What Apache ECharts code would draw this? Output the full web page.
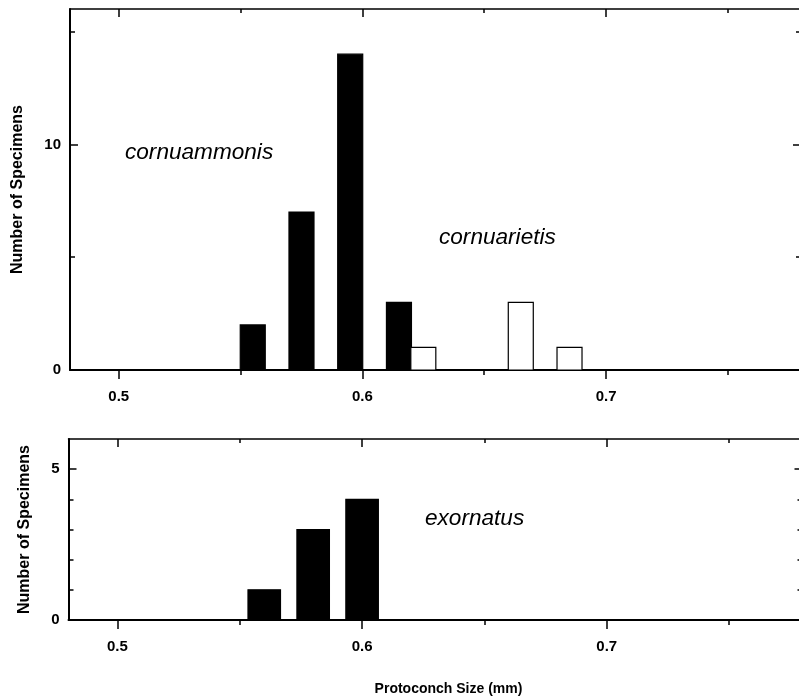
<!DOCTYPE html>
<html>
<head>
<meta charset="utf-8">
<script src="https://cdn.jsdelivr.net/npm/echarts@6/dist/echarts.min.js"></script>
<style>
html,body{margin:0;padding:0;background:#fff;}
#chart{width:799px;height:698px;}
</style>
</head>
<body>
<div id="chart"></div>
<script>
// ---- data ----
const topDarkBins = [0.555, 0.575, 0.595, 0.615];
const topDarkCounts = [2, 7, 14, 3];
const topOpenBins = [0.625, 0.665, 0.685];
const topOpenCounts = [1, 3, 1];
const lowerBins = [0.56, 0.58, 0.60];
const lowerCounts = [1, 3, 4];
const xMajorTicks = [0.5, 0.6, 0.7];
const xMinorTicks = [0.55, 0.65, 0.75];
const topYMajor = [0, 10];
const topYMinor = [5, 15];
const lowYMajor = [0, 5];
const lowYMinor = [1, 2, 3, 4];
const xTitle = 'Protoconch Size (mm)';
const yTitle = 'Number of Specimens';

const FONT = '"Liberation Sans", Arial, Helvetica, sans-serif';
const BLACK = '#000';

function zip(a, b) { return a.map((v, i) => [v, b[i]]); }

function xAxes(gi, withName) {
  const base = {gridIndex: gi, type: 'value', min: 0.48, max: 0.78, splitLine: {show: false}};
  return [
    Object.assign({}, base, {
      position: 'bottom',
      axisLine: {show: true, onZero: false, lineStyle: {color: BLACK, width: 2}},
      axisTick: {show: true, customValues: xMajorTicks, length: 9, lineStyle: {color: BLACK, width: 1.5}},
      axisLabel: {show: true, customValues: xMajorTicks, formatter: v => v.toFixed(1), margin: 19,
        color: BLACK, fontSize: 15, fontWeight: 'bold', fontFamily: FONT},
      name: withName ? xTitle : '',
      nameLocation: 'middle', nameGap: 62,
      nameTextStyle: {color: BLACK, fontSize: 14, fontWeight: 'bold', fontFamily: FONT, padding: [0, 0, 0, 26]}
    }),
    Object.assign({}, base, {
      position: 'bottom',
      axisLine: {show: false, onZero: false},
      axisTick: {show: true, customValues: xMinorTicks, length: 5, lineStyle: {color: BLACK, width: 1.5}},
      axisLabel: {show: false}
    }),
    Object.assign({}, base, {
      position: 'top',
      axisLine: {show: true, onZero: false, lineStyle: {color: BLACK, width: 1.5}},
      axisTick: {show: true, inside: true, customValues: xMajorTicks, length: 8, lineStyle: {color: BLACK, width: 1.5}},
      axisLabel: {show: false}
    }),
    Object.assign({}, base, {
      position: 'top',
      axisLine: {show: false, onZero: false},
      axisTick: {show: true, inside: true, customValues: xMinorTicks, length: 4, lineStyle: {color: BLACK, width: 1.5}},
      axisLabel: {show: false}
    })
  ];
}

function yAxes(gi, max, major, minor, nameGap) {
  const base = {gridIndex: gi, type: 'value', min: 0, max: max, splitLine: {show: false}};
  return [
    Object.assign({}, base, {
      position: 'left',
      axisLine: {show: true, onZero: false, lineStyle: {color: BLACK, width: 2}},
      axisTick: {show: true, inside: true, customValues: major, length: 8, lineStyle: {color: BLACK, width: 1.5}},
      axisLabel: {show: true, customValues: major, margin: 9, color: BLACK, fontSize: 15, fontWeight: 'bold', fontFamily: FONT},
      name: yTitle, nameLocation: 'middle', nameGap: nameGap, nameRotate: 90,
      nameTextStyle: {color: BLACK, fontSize: 16, fontWeight: 'bold', fontFamily: FONT}
    }),
    Object.assign({}, base, {
      position: 'left',
      axisLine: {show: false, onZero: false},
      axisTick: {show: true, inside: true, customValues: minor, length: 5, lineStyle: {color: BLACK, width: 1.5}},
      axisLabel: {show: false}
    }),
    Object.assign({}, base, {
      position: 'right',
      axisLine: {show: true, onZero: false, lineStyle: {color: BLACK, width: 1.5}},
      axisTick: {show: true, inside: true, customValues: major, length: 8, lineStyle: {color: BLACK, width: 1.5}},
      axisLabel: {show: false}
    }),
    Object.assign({}, base, {
      position: 'right',
      axisLine: {show: false, onZero: false},
      axisTick: {show: true, inside: true, customValues: minor, length: 5, lineStyle: {color: BLACK, width: 1.5}},
      axisLabel: {show: false}
    })
  ];
}

function barSeries(xi, yi, data, halfWidth, fill) {
  return {
    type: 'custom',
    xAxisIndex: xi, yAxisIndex: yi,
    encode: {x: 0, y: 1},
    data: data,
    silent: true,
    renderItem: function (params, api) {
      const c = api.value(0), v = api.value(1);
      const p0 = api.coord([c - halfWidth, v]);
      const p1 = api.coord([c + halfWidth, 0]);
      return {
        type: 'rect',
        shape: {x: p0[0], y: p0[1], width: p1[0] - p0[0], height: p1[1] - p0[1]},
        style: {fill: fill, stroke: BLACK, lineWidth: 1.2}
      };
    }
  };
}

const chart = echarts.init(document.getElementById('chart'), null, {renderer: 'canvas'});
const option = {
  backgroundColor: '#fff',
  animation: false,
  grid: [
    {left: 70, top: 9, width: 731, height: 361, outerBoundsMode: 'none', containLabel: false},
    {left: 68.5, top: 439, width: 734, height: 181, outerBoundsMode: 'none', containLabel: false}
  ],
  xAxis: [].concat(xAxes(0, false), xAxes(1, true)),
  yAxis: [].concat(yAxes(0, 16, topYMajor, topYMinor, 44), yAxes(1, 6, lowYMajor, lowYMinor, 36)),
  series: [
    barSeries(0, 0, zip(topDarkBins, topDarkCounts), 0.00513, BLACK),
    barSeries(0, 0, zip(topOpenBins, topOpenCounts), 0.00513, '#fff'),
    barSeries(4, 4, zip(lowerBins, lowerCounts), 0.00664, BLACK)
  ],
  graphic: [
    {type: 'text', x: 125, y: 153, style: {text: 'cornuammonis', font: 'italic 22.6px ' + FONT, fill: BLACK, verticalAlign: 'middle'}},
    {type: 'text', x: 439, y: 238, style: {text: 'cornuarietis', font: 'italic 22.6px ' + FONT, fill: BLACK, verticalAlign: 'middle'}},
    {type: 'text', x: 425, y: 519, style: {text: 'exornatus', font: 'italic 22.6px ' + FONT, fill: BLACK, verticalAlign: 'middle'}}
  ]
};
chart.setOption(option);
</script>
</body>
</html>
